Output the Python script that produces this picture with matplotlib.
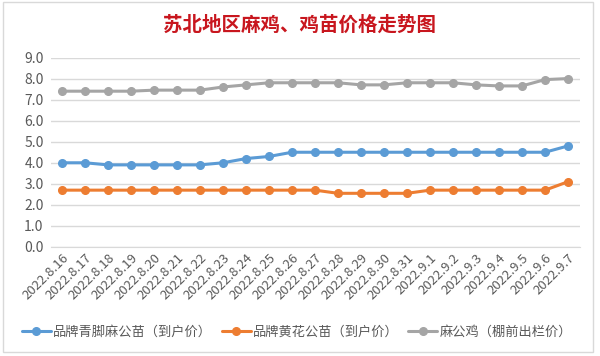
#!/usr/bin/env python3

import matplotlib
matplotlib.use("Agg")
import matplotlib.pyplot as plt
from matplotlib.patches import Rectangle

plt.rcParams["font.family"] = ["Noto Sans CJK SC", "DejaVu Sans"]

# ============================================================
# DATA
# ============================================================

DATES = [
    "2022.8.16", "2022.8.17", "2022.8.18", "2022.8.19", "2022.8.20",
    "2022.8.21", "2022.8.22", "2022.8.23", "2022.8.24", "2022.8.25",
    "2022.8.26", "2022.8.27", "2022.8.28", "2022.8.29", "2022.8.30",
    "2022.8.31", "2022.9.1", "2022.9.2", "2022.9.3", "2022.9.4",
    "2022.9.5", "2022.9.6", "2022.9.7",
]

QINGJIAO = [4.0, 4.0, 3.9, 3.9, 3.9, 3.9, 3.9, 4.0, 4.2, 4.3, 4.5, 4.5,
            4.5, 4.5, 4.5, 4.5, 4.5, 4.5, 4.5, 4.5, 4.5, 4.5, 4.8]
HUANGHUA = [2.7, 2.7, 2.7, 2.7, 2.7, 2.7, 2.7, 2.7, 2.7, 2.7, 2.7, 2.7,
            2.55, 2.55, 2.55, 2.55, 2.7, 2.7, 2.7, 2.7, 2.7, 2.7, 3.1]
MAGONGJI = [7.4, 7.4, 7.4, 7.4, 7.45, 7.45, 7.45, 7.6, 7.7, 7.8, 7.8, 7.8,
            7.8, 7.7, 7.7, 7.8, 7.8, 7.8, 7.7, 7.65, 7.65, 7.95, 8.0]

SERIES_NAMES = ["品牌青脚麻公苗（到户价）", "品牌黄花公苗（到户价）", "麻公鸡（棚前出栏价）"]
SERIES_COLORS = ["#5B9BD5", "#ED7D31", "#A5A5A5"]

TITLE = "苏北地区麻鸡、鸡苗价格走势图"
Y_TICKS = [0, 1, 2, 3, 4, 5, 6, 7, 8, 9]

# ============================================================
# PLOT
# ============================================================

W, H = 600, 356
fig = plt.figure(figsize=(W / 100, H / 100), dpi=100)
fig.patch.set_facecolor("white")

# chart frame
fig.patches.append(Rectangle((3 / W, 1 - 352 / H), 590 / W, 350 / H,
                             transform=fig.transFigure, facecolor="white",
                             edgecolor="#D9D9D9", linewidth=1.0, zorder=-1))

ax = fig.add_axes([50.5 / W, 1 - 247 / H, 529 / W, 189.5 / H])
ax.set_facecolor("none")
ax.set_zorder(2)

x = list(range(len(DATES)))
for vals, name, color in zip([QINGJIAO, HUANGHUA, MAGONGJI], SERIES_NAMES, SERIES_COLORS):
    ax.plot(x, vals, color=color, linewidth=2.2, marker="o", markersize=5.5,
            label=name, solid_capstyle="round", zorder=3)

ax.set_xlim(-0.5, len(DATES) - 0.5)
ax.set_ylim(0, 9)
ax.set_yticks(Y_TICKS)
ax.set_yticklabels([f"{v:.1f}" for v in Y_TICKS], fontsize=10, color="#595959")
ax.set_xticks(x)
ax.set_xticklabels(DATES, rotation=45, ha="right", rotation_mode="anchor",
                   fontsize=9.5, color="#595959")

ax.grid(axis="y", color="#D9D9D9", linewidth=1.0, zorder=0)
ax.set_axisbelow(True)
for s in ["top", "right", "left"]:
    ax.spines[s].set_visible(False)
ax.spines["bottom"].set_color("#D9D9D9")
ax.tick_params(axis="y", length=0, pad=5)
ax.tick_params(axis="x", length=0, pad=3)

fig.text(0.5, 1 - 25 / H, TITLE, ha="center", va="center",
         fontsize=14, fontweight="bold", color="#C8161E")

fig.legend(loc="center", bbox_to_anchor=(0.495, 1 - 332 / H), ncol=3,
           frameon=False, fontsize=9.5, handlelength=2.2, handletextpad=0.2,
           columnspacing=0.7, labelcolor="#595959")

plt.savefig("out.png", dpi=100)
plt.close(fig)
